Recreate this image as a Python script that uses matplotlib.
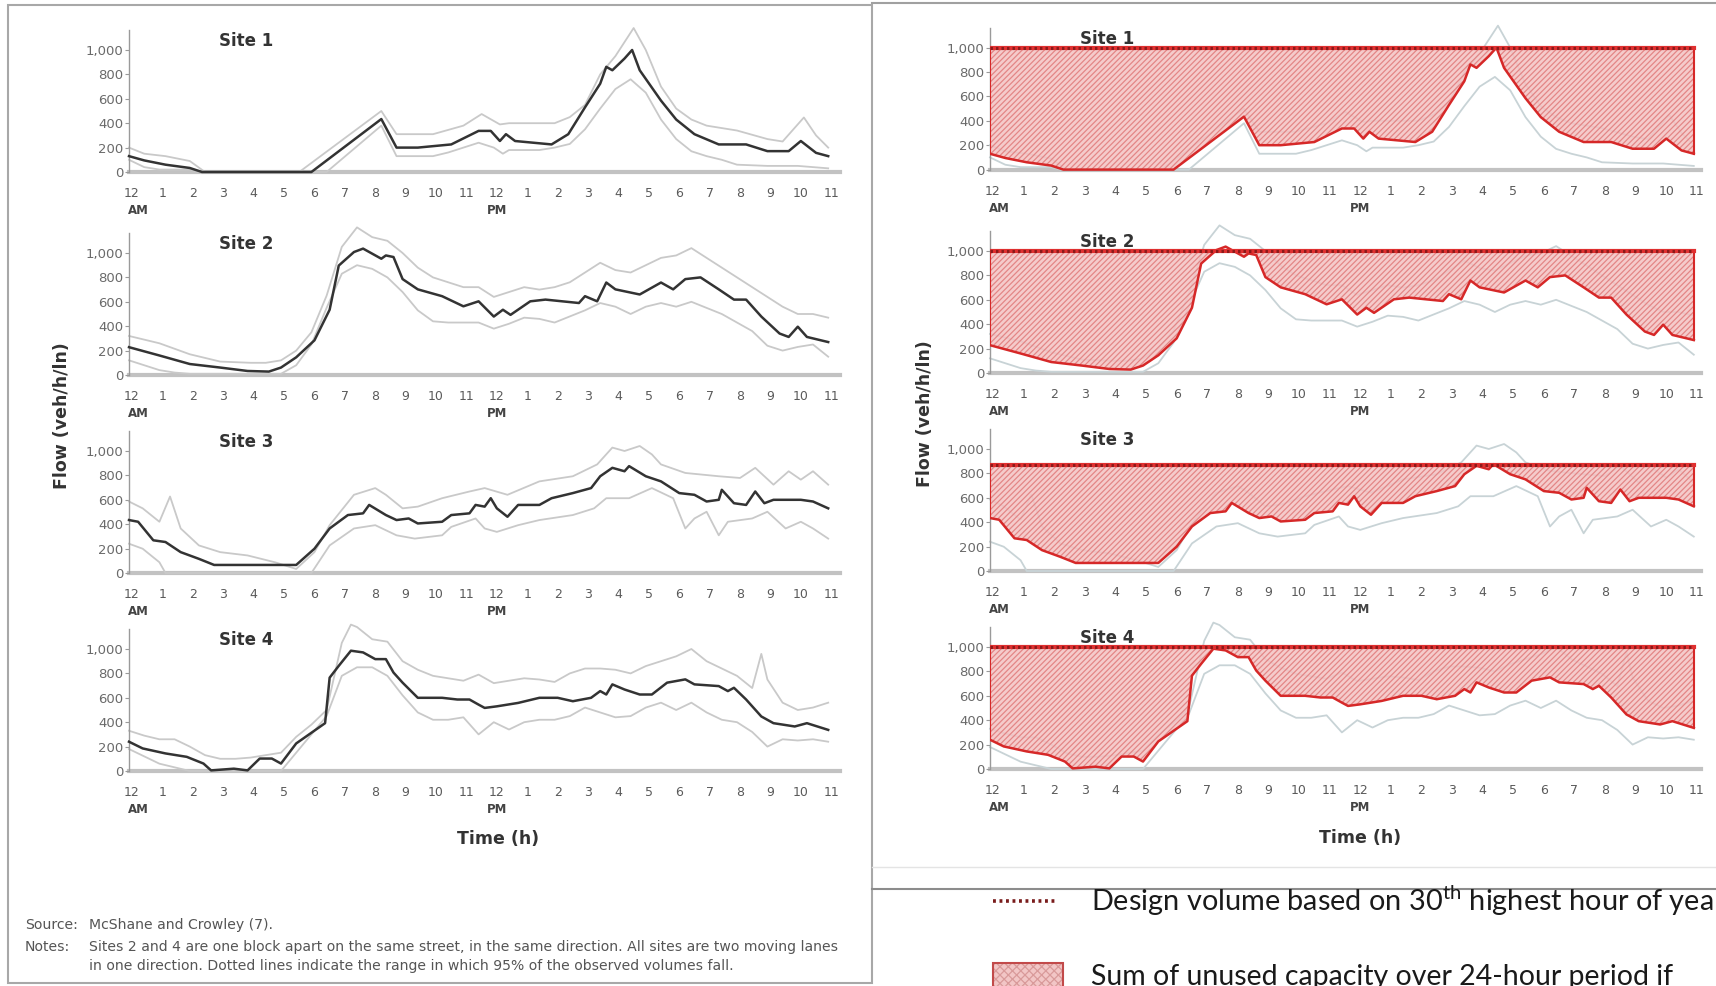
import matplotlib
matplotlib.use("Agg")
import matplotlib.pyplot as plt
import matplotlib.transforms as mtransforms
from matplotlib.patches import Rectangle
from matplotlib.lines import Line2D
import numpy as np

# ---------------- data ----------------
hour_labels = ['12', '1', '2', '3', '4', '5', '6', '7', '8', '9', '10', '11',
               '12', '1', '2', '3', '4', '5', '6', '7', '8', '9', '10', '11']
ytick_vals = [0, 200, 400, 600, 800, 1000]
ytick_labels = ['0', '200', '400', '600', '800', '1,000']
site_names = ['Site 1', 'Site 2', 'Site 3', 'Site 4']
design_volume = [1000, 1000, 865, 1000]

# Site 1
s1_main_h = [0, 0.5, 1.2, 2.0, 2.4, 6.0, 8.3, 8.8, 9.5, 10.6, 11.5, 11.9, 12.2, 12.4, 12.7, 13.9, 14.45, 15.0,
             15.5, 15.7, 15.9, 16.3, 16.55, 16.8, 17.5, 18.0, 18.6, 19.4, 20.3, 21.0, 21.7, 22.1, 22.6, 23.0]
s1_main_v = [130, 95, 60, 33, 0, 0, 434, 200, 200, 226, 337, 337, 254, 310, 254, 226, 310, 530,
             724, 862, 834, 930, 1000, 834, 585, 430, 310, 226, 226, 171, 171, 254, 157, 130]
s1_up_h = [0, 0.5, 1.2, 2.0, 2.5, 5.6, 8.3, 8.8, 10.0, 11.0, 11.6, 12.2, 12.5, 14.0, 14.5, 15.0, 15.5, 16.0,
           16.6, 17.0, 17.5, 18.0, 18.5, 19.0, 20.0, 21.0, 21.5, 22.2, 22.6, 23.0]
s1_up_v = [200, 150, 130, 90, 0, 0, 500, 310, 310, 380, 475, 390, 400, 400, 450, 550, 800, 950,
           1180, 1000, 700, 520, 430, 380, 340, 270, 250, 447, 300, 200]
s1_lo_h = [0, 0.5, 1.0, 2.0, 2.3, 6.5, 8.3, 8.8, 10.0, 10.5, 11.0, 11.5, 12.0, 12.3, 12.5, 13.5, 14.0, 14.5,
           15.0, 15.5, 16.0, 16.5, 17.0, 17.5, 18.0, 18.5, 19.0, 19.5, 20.0, 21.0, 22.0, 23.0]
s1_lo_v = [100, 40, 20, 20, 0, 0, 380, 130, 130, 160, 200, 240, 200, 150, 180, 180, 200, 230,
           350, 520, 680, 760, 650, 430, 270, 170, 130, 100, 60, 50, 50, 30]

# Site 2
s2_main_h = [0, 1, 2, 3, 3.9, 4.6, 5, 5.5, 6.1, 6.6, 6.9, 7.4, 7.7, 8.3, 8.45, 8.7, 9.0, 9.5, 10.3, 11.0,
             11.5, 12.0, 12.3, 12.55, 13.2, 13.7, 14.8, 15.0, 15.4, 15.7, 16.0, 16.8, 17.5, 17.9, 18.3,
             18.8, 19.4, 19.9, 20.3, 20.8, 21.4, 21.7, 22.0, 22.3, 23.0]
s2_main_v = [228, 160, 90, 61, 33, 28, 61, 145, 284, 535, 897, 1008, 1036, 953, 980, 967, 786, 702, 646, 563,
             604, 479, 535, 493, 604, 618, 590, 646, 604, 758, 702, 660, 758, 702, 786,
             800, 702, 618, 618, 479, 340, 312, 396, 312, 270]
s2_up_h = [0, 1, 2, 3, 4, 4.5, 5, 5.5, 6, 6.5, 7, 7.5, 8, 8.5, 9, 9.5, 10, 10.5, 11, 11.5, 12, 12.5, 13,
           13.5, 14, 14.5, 15, 15.5, 16, 16.5, 17, 17.5, 18, 18.5, 19, 19.5, 20, 20.5, 21, 21.5, 22, 22.5, 23]
s2_up_v = [320, 260, 170, 110, 100, 100, 120, 200, 350, 650, 1050, 1210, 1130, 1100, 1000, 880, 800, 760,
           720, 720, 640, 680, 720, 700, 720, 760, 840, 920, 860, 840, 900, 960, 980, 1040, 960, 880, 800,
           720, 640, 560, 500, 500, 470]
s2_lo_h = [0, 0.5, 1, 1.5, 2, 5, 5.5, 6, 6.5, 7, 7.5, 8, 8.5, 9, 9.5, 10, 10.5, 11, 11.5, 12, 12.5, 13,
           13.5, 14, 14.5, 15, 15.5, 16, 16.5, 17, 17.5, 18, 18.5, 19, 19.5, 20, 20.5, 21, 21.5, 22, 22.5, 23]
s2_lo_v = [120, 80, 40, 20, 10, 10, 80, 250, 550, 830, 900, 870, 800, 680, 530, 440, 430, 430, 430, 380,
           420, 470, 460, 430, 480, 530, 590, 560, 500, 560, 590, 560, 600, 550, 500, 430, 360, 240, 200,
           230, 250, 150]

# Site 3
s3_main_h = [0, 0.3, 0.8, 1.2, 1.7, 2.3, 2.8, 5.5, 6.1, 6.6, 7.2, 7.7, 7.9, 8.45, 8.8, 9.2, 9.5, 10.3, 10.6,
             11.2, 11.4, 11.7, 11.9, 12.1, 12.45, 12.8, 13.5, 13.9, 14.6, 15.2, 15.5, 15.9, 16.3, 16.45,
             17.0, 17.5, 18.1, 18.6, 19.0, 19.4, 19.5, 19.9, 20.3, 20.6, 20.9, 21.2, 22.1, 22.5, 23.0]
s3_main_v = [434, 420, 268, 254, 171, 116, 66, 66, 199, 365, 475, 489, 558, 475, 434, 447, 406, 420, 475,
             489, 558, 544, 613, 530, 461, 558, 558, 613, 655, 696, 793, 862, 834, 876,
             793, 751, 655, 641, 586, 600, 682, 572, 558, 668, 572, 600, 600, 586, 530]
s3_up_h = [0, 0.45, 1.0, 1.35, 1.7, 2.3, 3.0, 3.9, 4.8, 5.5, 6.1, 6.6, 7.4, 8.1, 8.45, 9.0, 9.5, 10.3,
           11.2, 11.7, 12.45, 13.5, 14.6, 15.4, 15.9, 16.3, 16.8, 17.2, 17.5, 18.3, 19.4, 20.1, 20.6,
           21.2, 21.7, 22.1, 22.5, 23.0]
s3_up_v = [586, 530, 420, 627, 365, 226, 171, 144, 88, 33, 171, 392, 641, 696, 641, 530, 544, 613,
           668, 696, 641, 751, 793, 890, 1028, 1000, 1041, 972, 890, 820, 793, 779, 862,
           724, 834, 765, 834, 724]
s3_lo_h = [0, 0.45, 1.0, 1.2, 6.0, 6.6, 7.4, 8.1, 8.8, 9.4, 10.3, 10.6, 11.4, 11.7, 12.1, 12.8, 13.5,
           14.6, 15.3, 15.7, 16.45, 17.2, 17.9, 18.3, 18.6, 19.0, 19.4, 19.7, 20.5, 21.0, 21.6, 22.1,
           22.5, 23.0]
s3_lo_v = [240, 199, 88, 0, 0, 226, 365, 392, 309, 282, 309, 378, 447, 365, 337, 392, 434,
           475, 530, 613, 613, 696, 613, 365, 447, 502, 309, 420, 447, 502, 365, 420,
           365, 282]

# Site 4
s4_main_h = [0, 0.45, 1.2, 1.9, 2.45, 2.7, 3.45, 3.9, 4.3, 4.7, 5.0, 5.5, 6.45, 6.6, 6.9, 7.3, 7.7, 8.1,
             8.45, 8.7, 9.0, 9.5, 10.3, 10.8, 11.2, 11.5, 11.7, 12.1, 12.8, 13.5, 14.1, 14.6, 15.2, 15.5,
             15.7, 15.9, 16.3, 16.8, 17.2, 17.7, 18.3, 18.6, 19.4, 19.7, 19.9, 20.3, 20.8, 21.2, 21.9,
             22.3, 23.0]
s4_main_v = [240, 185, 144, 116, 61, 5, 19, 5, 102, 102, 61, 226, 392, 765, 862, 986, 972, 917,
             917, 807, 724, 600, 600, 586, 586, 544, 517, 530, 558, 600, 600, 572, 600, 655,
             627, 710, 668, 627, 627, 724, 751, 710, 696, 655, 682, 586, 447, 392, 365,
             392, 337]
s4_up_h = [0, 0.5, 1, 1.5, 2, 2.5, 3, 3.5, 4, 4.5, 5, 5.5, 6, 6.5, 7, 7.3, 7.5, 8, 8.5, 9, 9.5, 10, 10.5,
           11, 11.5, 12, 12.5, 13, 13.5, 14, 14.5, 15, 15.5, 16, 16.5, 17, 17.5, 18, 18.5, 19, 19.5, 20,
           20.5, 20.8, 21, 21.5, 22, 22.5, 23]
s4_up_v = [330, 290, 260, 260, 200, 130, 100, 100, 110, 130, 150, 280, 380, 500, 1050, 1200, 1180, 1080,
           1060, 900, 830, 780, 760, 740, 790, 720, 740, 760, 750, 730, 800, 840, 840, 830, 800, 860, 900,
           940, 1000, 900, 840, 780, 680, 960, 750, 560, 500, 520, 560]
s4_lo_h = [0, 0.5, 1, 1.5, 2, 5, 5.5, 6, 6.5, 7, 7.5, 8, 8.5, 9, 9.5, 10, 10.5, 11, 11.5, 12, 12.5, 13,
           13.5, 14, 14.5, 15, 15.5, 16, 16.5, 17, 17.5, 18, 18.5, 19, 19.5, 20, 20.5, 21, 21.5, 22, 22.5, 23]
s4_lo_v = [180, 120, 60, 30, 0, 0, 150, 300, 450, 780, 850, 850, 780, 620, 480, 420, 420, 440, 300, 400,
           340, 400, 420, 420, 450, 520, 480, 440, 450, 520, 560, 500, 560, 480, 420, 400, 320, 200, 260,
           250, 260, 240]

main_h = [s1_main_h, s2_main_h, s3_main_h, s4_main_h]
main_v = [s1_main_v, s2_main_v, s3_main_v, s4_main_v]
up_h = [s1_up_h, s2_up_h, s3_up_h, s4_up_h]
up_v = [s1_up_v, s2_up_v, s3_up_v, s4_up_v]
lo_h = [s1_lo_h, s2_lo_h, s3_lo_h, s4_lo_h]
lo_v = [s1_lo_v, s2_lo_v, s3_lo_v, s4_lo_v]

legend_line_text = r"Design volume based on 30$^{\mathrm{th}}$ highest hour of year"
legend_fill_text = "Sum of unused capacity over 24-hour period if"
source_label = "Source:"
source_text = "McShane and Crowley (7)."
notes_label = "Notes:"
notes_text1 = ("Sites 2 and 4 are one block apart on the same street, in the same direction. "
               "All sites are two moving lanes")
notes_text2 = "in one direction. Dotted lines indicate the range in which 95% of the observed volumes fall."

# ---------------- figure ----------------
W, H = 1716, 986
plt.rcParams['font.family'] = ['DejaVu Sans']
plt.rcParams['mathtext.fontset'] = 'custom'
plt.rcParams['mathtext.rm'] = 'Lato'
plt.rcParams['hatch.linewidth'] = 0.9
fig = plt.figure(figsize=(W / 100, H / 100), dpi=100)
fig.patch.set_facecolor('white')


def fx(x):
    return x / W


def fy(y):
    return 1 - y / H


YMIN, YMAX = -30, 1230
PXU = 0.122  # pixels per flow unit
ax_h = (YMAX - YMIN) * PXU / H

left_zero = [172, 375, 573, 771]
right_zero = [169.6, 373, 571, 769]

LEFT_X0, LEFT_PPH, LEFT_XMAX = 129, 30.4, 23.4
RIGHT_X0, RIGHT_PPH, RIGHT_XMAX = 990, 30.6, 23.25


def make_axes(x0, pph, xmax, y0):
    bottom = fy(y0 - YMIN * PXU)
    ax = fig.add_axes([fx(x0), bottom, xmax * pph / W, ax_h])
    ax.set_xlim(0, xmax)
    ax.set_ylim(YMIN, YMAX)
    ax.patch.set_visible(False)
    for s in ['top', 'right']:
        ax.spines[s].set_visible(False)
    ax.spines['left'].set_bounds(0, 1160)
    ax.spines['left'].set_color('#9a9a9a')
    ax.spines['left'].set_linewidth(1.0)
    ax.spines['bottom'].set_position(('data', 0))
    ax.spines['bottom'].set_color('#c2c2c2')
    ax.spines['bottom'].set_linewidth(3)
    ax.spines['bottom'].set_zorder(0.5)
    ax.set_yticks(ytick_vals)
    ax.set_yticklabels(ytick_labels)
    ax.tick_params(axis='y', length=3, width=0.8, color='#9a9a9a', labelsize=9.5,
                   labelcolor='#6a6a6a', pad=1)
    ax.set_xticks(range(24))
    ax.set_xticklabels(hour_labels)
    ax.tick_params(axis='x', length=0, pad=11, labelsize=9, labelcolor='#5a5a5a')
    off = mtransforms.ScaledTranslation(3 / 100, 0, fig.dpi_scale_trans)
    for lab in ax.get_xticklabels():
        lab.set_transform(lab.get_transform() + off)
    ax.annotate('AM', xy=(0, 0), xytext=(-1, -28), textcoords='offset points', ha='left',
                va='center', fontsize=8.5, fontweight='bold', color='#444444')
    ax.annotate('PM', xy=(12, 0), xytext=(2, -28), textcoords='offset points', ha='center',
                va='center', fontsize=8.5, fontweight='bold', color='#444444')
    return ax


for i in range(4):
    # left panel
    ax = make_axes(LEFT_X0, LEFT_PPH, LEFT_XMAX, left_zero[i])
    ax.plot(up_h[i], up_v[i], color='#c9c9c9', lw=1.3, zorder=2, clip_on=False)
    ax.plot(lo_h[i], lo_v[i], color='#c9c9c9', lw=1.3, zorder=2, clip_on=False)
    ax.plot(main_h[i], main_v[i], color='#333333', lw=1.8, zorder=3, clip_on=False)
    ax.text(2.95, 1070, site_names[i], fontsize=12, fontweight='bold', color='#333333',
            ha='left', va='center', zorder=5)

    # right panel
    ax = make_axes(RIGHT_X0, RIGHT_PPH, RIGHT_XMAX, right_zero[i])
    ax.plot(up_h[i], up_v[i], color='#c8d3d6', lw=1.3, zorder=2, clip_on=False)
    ax.plot(lo_h[i], lo_v[i], color='#c8d3d6', lw=1.3, zorder=2, clip_on=False)
    mh = np.array(main_h[i], dtype=float)
    mv = np.array(main_v[i], dtype=float)
    d = design_volume[i]
    ax.fill_between(mh, mv, d, where=mv <= d, interpolate=True, facecolor='#f4c2c2',
                    edgecolor='#e07a7a', hatch='//////', lw=0, alpha=0.85, zorder=3)
    ax.plot(mh, mv, color='#d62828', lw=1.8, zorder=4)
    ax.plot([mh[0], mh[0]], [mv[0], d], color='#d62828', lw=1.5, zorder=4)
    ax.plot([mh[-1], mh[-1]], [mv[-1], d], color='#d62828', lw=1.5, zorder=4)
    ax.plot([mh[0], mh[-1]], [d, d], color='#e03030', lw=3, zorder=5)
    ax.plot([mh[0], mh[-1]], [d, d], color='#8b1a1a', lw=2.2, ls=(0, (0.8, 1.0)), zorder=6)
    ax.text(2.95, 1070, site_names[i], fontsize=12, fontweight='bold', color='#333333',
            ha='left', va='center', zorder=7)

# axis titles
for xp, yp in [(62, 416), (925, 414)]:
    fig.text(fx(xp), fy(yp), 'Flow (veh/h/ln)', rotation=90, ha='center', va='center',
             fontsize=12.5, fontweight='bold', color='#333333')
for xp, yp in [(498, 839), (1360, 838)]:
    fig.text(fx(xp), fy(yp), 'Time (h)', ha='center', va='center',
             fontsize=12.5, fontweight='bold', color='#333333')

# source & notes
note_kw = dict(fontsize=10.1, color='#555555', ha='left', va='center')
fig.text(fx(25), fy(925), source_label, **note_kw)
fig.text(fx(89), fy(925), source_text, **note_kw)
fig.text(fx(25), fy(947), notes_label, **note_kw)
fig.text(fx(89), fy(947), notes_text1, **note_kw)
fig.text(fx(89), fy(966), notes_text2, **note_kw)

# panel borders
fig.add_artist(Rectangle((fx(8), fy(983)), fx(872) - fx(8), fy(5) - fy(983), transform=fig.transFigure,
                         fill=False, edgecolor='#a8a8a8', lw=1.5))
fig.add_artist(Line2D([fx(872), 1], [fy(3), fy(3)], transform=fig.transFigure, color='#a0a0a0', lw=1.5))
fig.add_artist(Line2D([fx(872), 1], [fy(867), fy(867)], transform=fig.transFigure, color='#e4e4e4', lw=1))
fig.add_artist(Line2D([fx(872), 1], [fy(889), fy(889)], transform=fig.transFigure, color='#8c8c8c', lw=1.5))

# legend
fig.add_artist(Line2D([fx(993), fx(1058)], [fy(901), fy(901)], transform=fig.transFigure,
                      color='#7a1c1c', lw=2.6, ls=(0, (0.8, 1.0))))
fig.text(fx(1091), fy(901), legend_line_text, fontsize=20.8, family='Lato', color='#1a1a1a',
         ha='left', va='center')
fig.add_artist(Rectangle((fx(993), fy(995)), fx(1063) - fx(993), fy(963) - fy(995),
                         transform=fig.transFigure, facecolor='#f2c6c6', edgecolor='#d99a9a',
                         hatch='xxxx', lw=0))
fig.add_artist(Rectangle((fx(993), fy(995)), fx(1063) - fx(993), fy(963) - fy(995),
                         transform=fig.transFigure, fill=False, edgecolor='#c24a4a', lw=1.5))
fig.text(fx(1091), fy(977), legend_fill_text, fontsize=20.5, family='Lato', color='#1a1a1a',
         ha='left', va='center')

fig.savefig('out.png', dpi=100, facecolor='white')
